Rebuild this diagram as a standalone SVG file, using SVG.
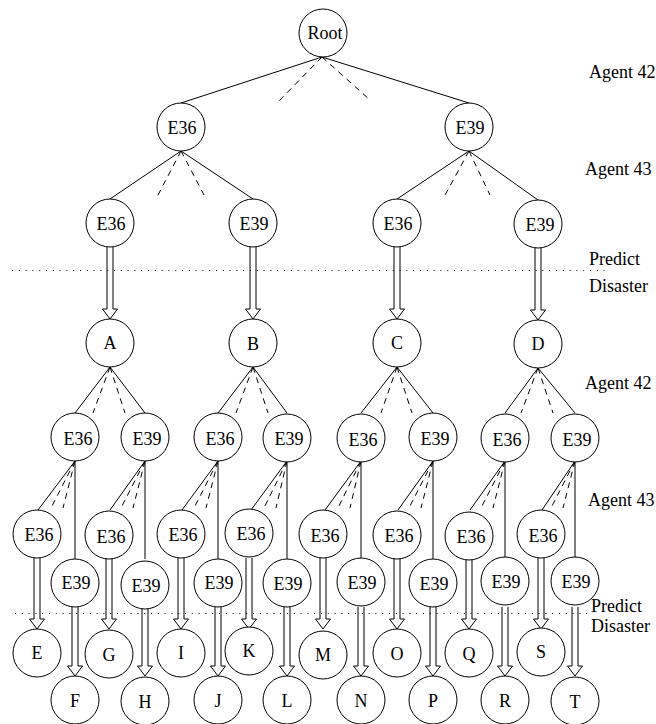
<svg xmlns="http://www.w3.org/2000/svg" width="656" height="724" viewBox="0 0 656 724">
<style>
.n circle{fill:#fff;stroke:#000;stroke-width:1}
text{font-family:"Liberation Serif","Times New Roman",serif;font-size:18px;fill:#000}
.n text{text-anchor:middle;font-family:"Liberation Serif","Times New Roman",serif}
.e{stroke:#000;stroke-width:1;fill:none}
.d{stroke:#000;stroke-width:1;fill:none;stroke-dasharray:6 5}
.s{stroke:#000;stroke-width:1}
.h{fill:#fff;stroke:#000;stroke-width:1;stroke-linejoin:miter}
.dot{stroke:#000;stroke-width:1;stroke-dasharray:1 5.8}
</style>
<rect width="656" height="724" fill="#fff"/>
<g id="separators">
<line class="dot" x1="12" y1="270.5" x2="607" y2="270.5"/>
<line class="dot" x1="15" y1="613.5" x2="588" y2="613.5"/>
</g>
<g id="labels">
<text x="589" y="78">Agent 42</text>
<text x="585" y="175">Agent 43</text>
<text x="589" y="265">Predict</text>
<text x="589" y="292">Disaster</text>
<text x="585" y="389">Agent 42</text>
<text x="588" y="506">Agent 43</text>
<text x="591" y="612" font-size="17">Predict</text>
<text x="591" y="631.5" font-size="17">Disaster</text>
</g>
<g id="connectors">
<line class="e" x1="322" y1="57" x2="181" y2="103"/>
<line class="e" x1="322" y1="57" x2="469" y2="103"/>
<line class="d" x1="322" y1="57" x2="277" y2="103"/>
<line class="d" x1="322" y1="57" x2="370" y2="100"/>
<line class="e" x1="181" y1="151" x2="110" y2="199"/>
<line class="e" x1="181" y1="151" x2="253" y2="199"/>
<line class="d" x1="181" y1="151" x2="157" y2="197"/>
<line class="d" x1="181" y1="151" x2="204" y2="195"/>
<line class="e" x1="469" y1="151" x2="397" y2="199"/>
<line class="e" x1="469" y1="151" x2="538" y2="200"/>
<line class="d" x1="469" y1="151" x2="444" y2="197"/>
<line class="d" x1="469" y1="151" x2="490" y2="195"/>
<line class="s" x1="107" y1="247" x2="107" y2="309"/><line class="s" x1="113" y1="247" x2="113" y2="309"/><path class="h" d="M107 309H102.5L110 319L117.5 309H113"/>
<line class="s" x1="250" y1="247" x2="250" y2="309"/><line class="s" x1="256" y1="247" x2="256" y2="309"/><path class="h" d="M250 309H245.5L253 319L260.5 309H256"/>
<line class="s" x1="394" y1="247" x2="394" y2="309"/><line class="s" x1="400" y1="247" x2="400" y2="309"/><path class="h" d="M394 309H389.5L397 319L404.5 309H400"/>
<line class="s" x1="535" y1="248" x2="535" y2="310"/><line class="s" x1="541" y1="248" x2="541" y2="310"/><path class="h" d="M535 310H530.5L538 320L545.5 310H541"/>
<line class="e" x1="110" y1="367" x2="75" y2="413"/><line class="e" x1="110" y1="367" x2="145" y2="413"/>
<line class="d" x1="110" y1="367" x2="93" y2="413"/><line class="d" x1="110" y1="367" x2="125" y2="413"/>
<line class="e" x1="253" y1="367" x2="218" y2="413"/><line class="e" x1="253" y1="367" x2="287" y2="413"/>
<line class="d" x1="253" y1="367" x2="236" y2="413"/><line class="d" x1="253" y1="367" x2="268" y2="413"/>
<line class="e" x1="397" y1="367" x2="361" y2="413"/><line class="e" x1="397" y1="367" x2="433" y2="413"/>
<line class="d" x1="397" y1="367" x2="381" y2="413"/><line class="d" x1="397" y1="367" x2="412" y2="413"/>
<line class="e" x1="538" y1="368" x2="505" y2="413"/><line class="e" x1="538" y1="368" x2="575" y2="413"/>
<line class="d" x1="538" y1="368" x2="521" y2="413"/><line class="d" x1="538" y1="368" x2="553" y2="413"/>
<line class="e" x1="75" y1="461" x2="38" y2="510"/><line class="d" x1="75" y1="461" x2="51" y2="508"/><line class="d" x1="75" y1="461" x2="63" y2="508"/><line class="e" x1="75" y1="461" x2="75" y2="559"/>
<line class="e" x1="145" y1="461" x2="110" y2="510"/><line class="d" x1="145" y1="461" x2="121" y2="508"/><line class="d" x1="145" y1="461" x2="133" y2="508"/><line class="e" x1="145" y1="461" x2="145" y2="559"/>
<line class="e" x1="218" y1="461" x2="182" y2="510"/><line class="d" x1="218" y1="461" x2="194" y2="508"/><line class="d" x1="218" y1="461" x2="206" y2="508"/><line class="e" x1="218" y1="461" x2="218" y2="559"/>
<line class="e" x1="287" y1="461" x2="251" y2="510"/><line class="d" x1="287" y1="461" x2="264" y2="508"/><line class="d" x1="287" y1="461" x2="276" y2="508"/><line class="e" x1="287" y1="461" x2="287" y2="559"/>
<line class="e" x1="361" y1="461" x2="325" y2="510"/><line class="d" x1="361" y1="461" x2="338" y2="508"/><line class="d" x1="361" y1="461" x2="350" y2="508"/><line class="e" x1="361" y1="461" x2="361" y2="559"/>
<line class="e" x1="433" y1="461" x2="398" y2="510"/><line class="d" x1="433" y1="461" x2="409" y2="508"/><line class="d" x1="433" y1="461" x2="421" y2="508"/><line class="e" x1="433" y1="461" x2="433" y2="559"/>
<line class="e" x1="505" y1="461" x2="470" y2="510"/><line class="d" x1="505" y1="461" x2="481" y2="508"/><line class="d" x1="505" y1="461" x2="493" y2="508"/><line class="e" x1="505" y1="461" x2="505" y2="559"/>
<line class="e" x1="575" y1="461" x2="542" y2="510"/><line class="d" x1="575" y1="461" x2="551" y2="508"/><line class="d" x1="575" y1="461" x2="563" y2="508"/><line class="e" x1="575" y1="461" x2="575" y2="559"/>
<line class="s" x1="34" y1="558" x2="34" y2="619"/><line class="s" x1="40" y1="558" x2="40" y2="619"/><path class="h" d="M34 619H29.5L37 629L44.5 619H40"/>
<line class="s" x1="106" y1="558" x2="106" y2="619"/><line class="s" x1="112" y1="558" x2="112" y2="619"/><path class="h" d="M106 619H101.5L109 629L116.5 619H112"/>
<line class="s" x1="178" y1="558" x2="178" y2="619"/><line class="s" x1="184" y1="558" x2="184" y2="619"/><path class="h" d="M178 619H173.5L181 629L188.5 619H184"/>
<line class="s" x1="246" y1="558" x2="246" y2="619"/><line class="s" x1="252" y1="558" x2="252" y2="619"/><path class="h" d="M246 619H241.5L249 629L256.5 619H252"/>
<line class="s" x1="320" y1="558" x2="320" y2="619"/><line class="s" x1="326" y1="558" x2="326" y2="619"/><path class="h" d="M320 619H315.5L323 629L330.5 619H326"/>
<line class="s" x1="394" y1="558" x2="394" y2="619"/><line class="s" x1="400" y1="558" x2="400" y2="619"/><path class="h" d="M394 619H389.5L397 629L404.5 619H400"/>
<line class="s" x1="466" y1="558" x2="466" y2="619"/><line class="s" x1="472" y1="558" x2="472" y2="619"/><path class="h" d="M466 619H461.5L469 629L476.5 619H472"/>
<line class="s" x1="538" y1="558" x2="538" y2="619"/><line class="s" x1="544" y1="558" x2="544" y2="619"/><path class="h" d="M538 619H533.5L541 629L548.5 619H544"/>
<line class="s" x1="72" y1="607" x2="72" y2="666"/><line class="s" x1="78" y1="607" x2="78" y2="666"/><path class="h" d="M72 666H67.5L75 676L82.5 666H78"/>
<line class="s" x1="142" y1="607" x2="142" y2="666"/><line class="s" x1="148" y1="607" x2="148" y2="666"/><path class="h" d="M142 666H137.5L145 676L152.5 666H148"/>
<line class="s" x1="215" y1="607" x2="215" y2="666"/><line class="s" x1="221" y1="607" x2="221" y2="666"/><path class="h" d="M215 666H210.5L218 676L225.5 666H221"/>
<line class="s" x1="284" y1="607" x2="284" y2="666"/><line class="s" x1="290" y1="607" x2="290" y2="666"/><path class="h" d="M284 666H279.5L287 676L294.5 666H290"/>
<line class="s" x1="358" y1="607" x2="358" y2="666"/><line class="s" x1="364" y1="607" x2="364" y2="666"/><path class="h" d="M358 666H353.5L361 676L368.5 666H364"/>
<line class="s" x1="430" y1="607" x2="430" y2="666"/><line class="s" x1="436" y1="607" x2="436" y2="666"/><path class="h" d="M430 666H425.5L433 676L440.5 666H436"/>
<line class="s" x1="502" y1="607" x2="502" y2="666"/><line class="s" x1="508" y1="607" x2="508" y2="666"/><path class="h" d="M502 666H497.5L505 676L512.5 666H508"/>
<line class="s" x1="572" y1="607" x2="572" y2="666"/><line class="s" x1="578" y1="607" x2="578" y2="666"/><path class="h" d="M572 666H567.5L575 676L582.5 666H578"/>
</g>
<g id="nodes" font-family="'Liberation Serif', 'Times New Roman', serif">
<g id="root" class="n"><circle cx="323" cy="33" r="24"/><text x="325" y="39">Root</text></g>
<g id="n1a" class="n"><circle cx="181" cy="127" r="24"/><text x="182" y="134">E36</text></g>
<g id="n1b" class="n"><circle cx="469" cy="127" r="24"/><text x="470" y="134">E39</text></g>
<g id="n2a" class="n"><circle cx="110" cy="223" r="24"/><text x="111" y="230">E36</text></g>
<g id="n2b" class="n"><circle cx="253" cy="223" r="24"/><text x="254" y="230">E39</text></g>
<g id="n2c" class="n"><circle cx="397" cy="223" r="24"/><text x="398" y="230">E36</text></g>
<g id="n2d" class="n"><circle cx="538" cy="224" r="24"/><text x="540" y="231">E39</text></g>
<g id="A" class="n"><circle cx="110" cy="343" r="24"/><text x="110" y="349">A</text></g>
<g id="B" class="n"><circle cx="253" cy="343" r="24"/><text x="253" y="350">B</text></g>
<g id="C" class="n"><circle cx="397" cy="343" r="24"/><text x="397" y="349">C</text></g>
<g id="D" class="n"><circle cx="538" cy="344" r="24"/><text x="538" y="350">D</text></g>
<g id="a1" class="n"><circle cx="75" cy="437" r="24"/><text x="78" y="445">E36</text></g>
<g id="a2" class="n"><circle cx="145" cy="437" r="24"/><text x="147" y="445">E39</text></g>
<g id="b1" class="n"><circle cx="218" cy="437" r="24"/><text x="220" y="445">E36</text></g>
<g id="b2" class="n"><circle cx="287" cy="438" r="24"/><text x="289" y="445">E39</text></g>
<g id="c1" class="n"><circle cx="361" cy="438" r="24"/><text x="363" y="446">E36</text></g>
<g id="c2" class="n"><circle cx="433" cy="437" r="24"/><text x="435" y="445">E39</text></g>
<g id="d1" class="n"><circle cx="505" cy="438" r="24"/><text x="507" y="446">E36</text></g>
<g id="d2" class="n"><circle cx="575" cy="438" r="24"/><text x="577" y="446">E39</text></g>
<g id="a11" class="n"><circle cx="37" cy="534" r="24"/><text x="39" y="541">E36</text></g>
<g id="a21" class="n"><circle cx="109" cy="535" r="24"/><text x="111" y="543">E36</text></g>
<g id="b11" class="n"><circle cx="181" cy="534" r="24"/><text x="183" y="541">E36</text></g>
<g id="b21" class="n"><circle cx="249" cy="533" r="24"/><text x="251" y="540">E36</text></g>
<g id="c11" class="n"><circle cx="323" cy="534" r="24"/><text x="325" y="542">E36</text></g>
<g id="c21" class="n"><circle cx="397" cy="535" r="24"/><text x="399" y="542">E36</text></g>
<g id="d11" class="n"><circle cx="469" cy="536" r="24"/><text x="471" y="543">E36</text></g>
<g id="d21" class="n"><circle cx="541" cy="534" r="24"/><text x="543" y="542">E36</text></g>
<g id="a12" class="n"><circle cx="75" cy="583" r="24"/><text x="76" y="589">E39</text></g>
<g id="a22" class="n"><circle cx="145" cy="585" r="24"/><text x="146" y="592">E39</text></g>
<g id="b12" class="n"><circle cx="218" cy="583" r="24"/><text x="219" y="589">E39</text></g>
<g id="b22" class="n"><circle cx="287" cy="583" r="24"/><text x="288" y="590">E39</text></g>
<g id="c12" class="n"><circle cx="361" cy="582" r="24"/><text x="362" y="589">E39</text></g>
<g id="c22" class="n"><circle cx="433" cy="583" r="24"/><text x="434" y="590">E39</text></g>
<g id="d12" class="n"><circle cx="505" cy="581" r="24"/><text x="506" y="588">E39</text></g>
<g id="d22" class="n"><circle cx="575" cy="581" r="24"/><text x="576" y="588">E39</text></g>
<g id="E" class="n"><circle cx="37" cy="653" r="24"/><text x="37" y="659">E</text></g>
<g id="G" class="n"><circle cx="109" cy="654" r="24"/><text x="109" y="661">G</text></g>
<g id="I" class="n"><circle cx="181" cy="653" r="24"/><text x="181" y="659">I</text></g>
<g id="K" class="n"><circle cx="249" cy="651" r="24"/><text x="249" y="657">K</text></g>
<g id="M" class="n"><circle cx="323" cy="655" r="24"/><text x="323" y="661">M</text></g>
<g id="O" class="n"><circle cx="397" cy="653" r="24"/><text x="397" y="660">O</text></g>
<g id="Q" class="n"><circle cx="469" cy="653" r="24"/><text x="469" y="660">Q</text></g>
<g id="S" class="n"><circle cx="541" cy="652" r="24"/><text x="541" y="658">S</text></g>
<g id="F" class="n"><circle cx="75" cy="700" r="24"/><text x="75" y="707">F</text></g>
<g id="H" class="n"><circle cx="145" cy="701" r="24"/><text x="145" y="708">H</text></g>
<g id="J" class="n"><circle cx="218" cy="700" r="24"/><text x="218" y="707">J</text></g>
<g id="L" class="n"><circle cx="287" cy="700" r="24"/><text x="287" y="707">L</text></g>
<g id="N" class="n"><circle cx="361" cy="700" r="24"/><text x="361" y="707">N</text></g>
<g id="P" class="n"><circle cx="433" cy="700" r="24"/><text x="433" y="707">P</text></g>
<g id="R" class="n"><circle cx="505" cy="700" r="24"/><text x="505" y="707">R</text></g>
<g id="T" class="n"><circle cx="575" cy="701" r="24"/><text x="575" y="708">T</text></g>
</g>
</svg>
